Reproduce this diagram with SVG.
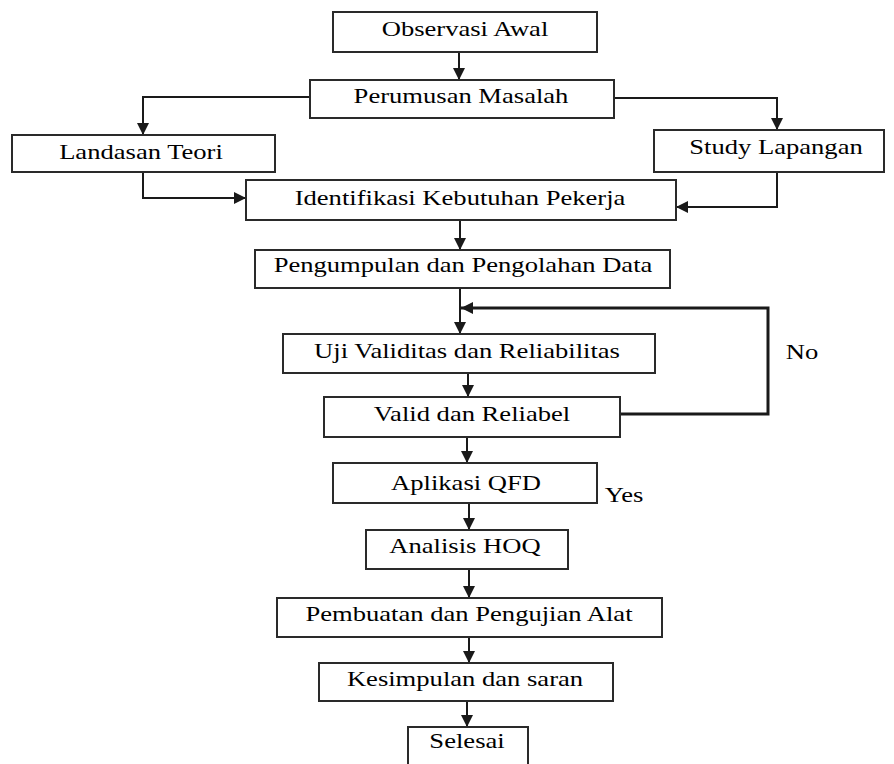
<svg xmlns="http://www.w3.org/2000/svg" width="894" height="764" viewBox="0 0 894 764">
<defs>
<style>
.box{fill:#fff;stroke:#2a2a2a;stroke-width:2}
.lbl{font-size:20px;fill:#000;text-anchor:middle}
.ln{fill:none;stroke:#1a1a1a;stroke-width:2}
.thick{stroke-width:3}
</style>
<marker id="ah" markerUnits="userSpaceOnUse" markerWidth="12" markerHeight="12" viewBox="0 0 10 10" refX="10" refY="5" orient="auto">
<path d="M0,0 L10,5 L0,10 z" fill="#1a1a1a"/>
</marker>
</defs>
<rect width="894" height="764" fill="#fff"/>
<g id="connectors">
<path class="ln" d="M459,52 V80" marker-end="url(#ah)"/>
<path class="ln" d="M310,97 H143 V135" marker-end="url(#ah)"/>
<path class="ln" d="M614,98 H777 V130" marker-end="url(#ah)"/>
<path class="ln" d="M143,172 V198 H246" marker-end="url(#ah)"/>
<path class="ln" d="M777,172 V207 H676" marker-end="url(#ah)"/>
<path class="ln" d="M460,220 V250" marker-end="url(#ah)"/>
<path class="ln" d="M460,288 V334" marker-end="url(#ah)"/>
<path class="ln thick" d="M620,414 H768 V308 H461" marker-end="url(#ah)"/>
<path class="ln" d="M468,373 V397" marker-end="url(#ah)"/>
<path class="ln" d="M467,437 V463" marker-end="url(#ah)"/>
<path class="ln" d="M469,503 V530" marker-end="url(#ah)"/>
<path class="ln" d="M469,569 V598" marker-end="url(#ah)"/>
<path class="ln" d="M469,637 V663" marker-end="url(#ah)"/>
<path class="ln" d="M467,701 V727" marker-end="url(#ah)"/>
</g>
<g font-family="'Liberation Serif', 'DejaVu Serif', serif">
<g id="n-observasi"><rect class="box" x="333" y="12" width="264" height="40"/><text class="lbl" transform="translate(465,36) scale(1.33,1)">Observasi Awal</text></g>
<g id="n-perumusan"><rect class="box" x="310" y="80" width="304" height="38"/><text class="lbl" transform="translate(461,103) scale(1.33,1)">Perumusan Masalah</text></g>
<g id="n-landasan"><rect class="box" x="12" y="135" width="263" height="37"/><text class="lbl" transform="translate(141,159) scale(1.33,1)">Landasan Teori</text></g>
<g id="n-study"><rect class="box" x="654" y="130" width="230" height="42"/><text class="lbl" transform="translate(776,154) scale(1.33,1)">Study Lapangan</text></g>
<g id="n-identifikasi"><rect class="box" x="246" y="180" width="430" height="40"/><text class="lbl" transform="translate(460,205) scale(1.33,1)">Identifikasi Kebutuhan Pekerja</text></g>
<g id="n-pengumpulan"><rect class="box" x="255" y="250" width="415" height="38"/><text class="lbl" transform="translate(463,272) scale(1.33,1)">Pengumpulan dan Pengolahan Data</text></g>
<g id="n-uji"><rect class="box" x="283" y="334" width="372" height="39"/><text class="lbl" transform="translate(467,358) scale(1.33,1)">Uji Validitas dan Reliabilitas</text></g>
<g id="n-valid"><rect class="box" x="324" y="397" width="296" height="40"/><text class="lbl" transform="translate(472,421) scale(1.33,1)">Valid dan Reliabel</text></g>
<g id="lbl-no"><text class="lbl" transform="translate(802,359) scale(1.33,1)">No</text></g>
<g id="n-aplikasi"><rect class="box" x="333" y="463" width="264" height="40"/><text class="lbl" transform="translate(466,490) scale(1.33,1)">Aplikasi QFD</text></g>
<g id="lbl-yes"><text class="lbl" transform="translate(624,502) scale(1.33,1)">Yes</text></g>
<g id="n-analisis"><rect class="box" x="366" y="530" width="202" height="39"/><text class="lbl" transform="translate(465,553) scale(1.33,1)">Analisis HOQ</text></g>
<g id="n-pembuatan"><rect class="box" x="277" y="598" width="385" height="39"/><text class="lbl" transform="translate(469,621) scale(1.33,1)">Pembuatan dan Pengujian Alat</text></g>
<g id="n-kesimpulan"><rect class="box" x="319" y="663" width="294" height="38"/><text class="lbl" transform="translate(465,686) scale(1.33,1)">Kesimpulan dan saran</text></g>
<g id="n-selesai"><rect class="box" x="408" y="727" width="120" height="45"/><text class="lbl" transform="translate(467,748) scale(1.33,1)">Selesai</text></g>
</g>
</svg>
